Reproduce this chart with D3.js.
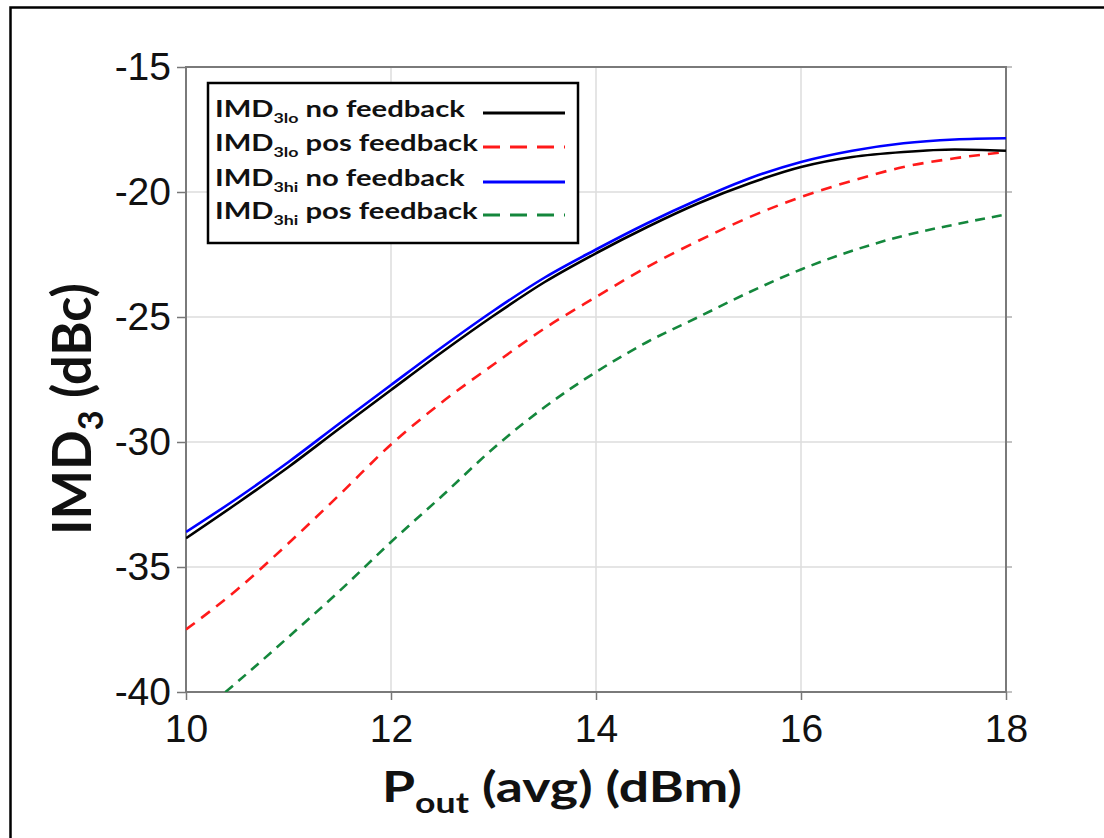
<!DOCTYPE html>
<html>
<head>
<meta charset="utf-8">
<script src="https://cdn.jsdelivr.net/npm/d3@7"></script>
<style>
  html, body { margin: 0; padding: 0; background: #fff; }
  svg { display: block; }
</style>
</head>
<body>
<svg id="chart" width="1104" height="838"></svg>
<script>
// ---------- data ----------
const pout = [10, 10.5, 11, 11.5, 12, 12.5, 13, 13.5, 14, 14.5, 15, 15.5, 16, 16.5, 17, 17.5, 18];
const imdLoNoFb  = [-33.85, -32.45, -31.0, -29.45, -27.92, -26.4, -24.95, -23.6, -22.45, -21.4, -20.45, -19.65, -19.0, -18.6, -18.4, -18.3, -18.35];
const imdLoPosFb = [-37.5, -35.9, -34.05, -32.1, -30.1, -28.4, -26.9, -25.45, -24.2, -23.0, -21.95, -21.0, -20.2, -19.55, -19.0, -18.65, -18.4];
const imdHiNoFb  = [-33.6, -32.25, -30.8, -29.25, -27.72, -26.2, -24.75, -23.42, -22.3, -21.25, -20.3, -19.45, -18.8, -18.35, -18.05, -17.9, -17.85];
const imdHiPosFb = [-41.3, -39.6, -37.8, -35.95, -34.0, -32.15, -30.25, -28.6, -27.2, -26.0, -25.0, -24.0, -23.1, -22.35, -21.75, -21.3, -20.9];
const xTicks = [10, 12, 14, 16, 18];
const yTicks = [-15, -20, -25, -30, -35, -40];
const seriesNames = ["no feedback", "pos feedback", "no feedback", "pos feedback"];
const seriesSubs = ["3lo", "3lo", "3hi", "3hi"];

// ---------- layout ----------
const svg = d3.select("#chart");
const L = 186, R = 1006, T = 67, B = 692;
const x = d3.scaleLinear().domain([10, 18]).range([L, R]);
const y = d3.scaleLinear().domain([-40, -15]).range([B, T]);

svg.append("rect").attr("width", 1104).attr("height", 838).attr("fill", "#fff");
// outer frame (left + top only visible)
svg.append("path").attr("d", "M10.5,838 L10.5,7.5 L1104,7.5")
  .attr("fill", "none").attr("stroke", "#000").attr("stroke-width", 2.5);

// grid
const grid = svg.append("g");
grid.selectAll("line.gx").data(xTicks.slice(1, -1)).join("line")
  .attr("x1", d => x(d)).attr("x2", d => x(d)).attr("y1", T).attr("y2", B)
  .attr("stroke", "#dcdcdc").attr("stroke-width", 1.5);
grid.selectAll("line.gy").data(yTicks.slice(1, -1)).join("line")
  .attr("y1", d => y(d)).attr("y2", d => y(d)).attr("x1", L).attr("x2", R)
  .attr("stroke", "#dcdcdc").attr("stroke-width", 1.5);

// axes
const axFont = "'Liberation Sans', Arial, sans-serif";
const xAxis = svg.append("g").attr("transform", `translate(0,${B})`)
  .call(d3.axisBottom(x).tickValues(xTicks).tickSize(8).tickPadding(14).tickFormat(d3.format("d")));
const yAxis = svg.append("g").attr("transform", `translate(${L},0)`)
  .call(d3.axisLeft(y).tickValues(yTicks).tickSize(9).tickPadding(6).tickFormat(d => d));
[xAxis, yAxis].forEach(a => {
  a.select(".domain").remove();
  a.selectAll(".tick line").attr("stroke", "#777").attr("stroke-width", 1.5);
  a.selectAll(".tick text").attr("font-family", axFont).attr("font-size", 39).attr("fill", "#111");
});
xAxis.selectAll(".tick text").attr("dy", "0.71em");
// right side small ticks
svg.append("g").selectAll("line").data(yTicks).join("line")
  .attr("x1", R).attr("x2", R + 6).attr("y1", d => y(d)).attr("y2", d => y(d))
  .attr("stroke", "#999").attr("stroke-width", 1.2);

// plot frame
svg.append("rect").attr("x", L).attr("y", T).attr("width", R - L).attr("height", B - T)
  .attr("fill", "none").attr("stroke", "#7a7a7a").attr("stroke-width", 2);

// clip
svg.append("clipPath").attr("id", "clip").append("rect")
  .attr("x", L).attr("y", T).attr("width", R - L).attr("height", B - T);

const series = [
  { vals: imdLoNoFb,  color: "#000000", dash: null },
  { vals: imdLoPosFb, color: "#ff1a1a", dash: "11,8" },
  { vals: imdHiNoFb,  color: "#0000ff", dash: null },
  { vals: imdHiPosFb, color: "#14873c", dash: "10,7" }
];
const line = d3.line().x((d, i) => x(pout[i])).y(d => y(d)).curve(d3.curveMonotoneX);
const drawOrder = [1, 3, 0, 2];
const lines = svg.append("g").attr("clip-path", "url(#clip)");
drawOrder.forEach(k => {
  const s = series[k];
  lines.append("path").datum(s.vals).attr("d", line)
    .attr("fill", "none").attr("stroke", s.color).attr("stroke-width", 2.6)
    .attr("stroke-dasharray", s.dash);
});

// legend
const lgFont = "Lato, 'Open Sans', sans-serif";
const lg = svg.append("g");
lg.append("rect").attr("x", 208).attr("y", 83).attr("width", 370).attr("height", 160)
  .attr("fill", "#fff").attr("stroke", "#000").attr("stroke-width", 2.5);
const rowBase = [117, 151, 186, 219];
const texts = [];
series.forEach((s, i) => {
  const g = lg.append("g").attr("transform", `translate(215,${rowBase[i]})`);
  const t = g.append("text").attr("font-family", lgFont).attr("font-weight", 700)
    .attr("font-size", 23).attr("fill", "#111");
  t.append("tspan").text("IMD");
  t.append("tspan").attr("font-size", 14).attr("dy", 6).text(seriesSubs[i]);
  t.append("tspan").attr("dy", -6).text(" " + seriesNames[i]);
  texts.push(t);
  lg.append("line").attr("x1", 483).attr("x2", 565).attr("y1", rowBase[i] - 4).attr("y2", rowBase[i] - 4)
    .attr("stroke", s.color).attr("stroke-width", 3)
    .attr("stroke-dasharray", s.dash ? "17,10" : null);
});
const w0 = texts[0].node().getComputedTextLength();
const sx = 250 / w0;
texts.forEach(t => t.attr("transform", `scale(${sx},1)`));

// axis titles
const xt = svg.append("text").attr("font-family", lgFont).attr("font-weight", 700)
  .attr("font-size", 42).attr("fill", "#111");
xt.append("tspan").text("P");
xt.append("tspan").attr("font-size", 28).attr("dy", 11).text("out");
xt.append("tspan").attr("dy", -11).text(" (avg) (dBm)");
const xw = xt.node().getComputedTextLength();
xt.attr("transform", `translate(382,802) scale(${360 / xw},1)`);

const yt = svg.append("text").attr("font-family", lgFont).attr("font-weight", 700)
  .attr("font-size", 46).attr("fill", "#111");
yt.append("tspan").text("IMD");
yt.append("tspan").attr("font-size", 30).attr("dy", 10).text("3");
yt.append("tspan").attr("dy", -10).text(" (dBc)");
const yw = yt.node().getComputedTextLength();
yt.attr("transform", `translate(91,535) rotate(-90) scale(${252 / yw},1.15)`);
</script>
</body>
</html>
